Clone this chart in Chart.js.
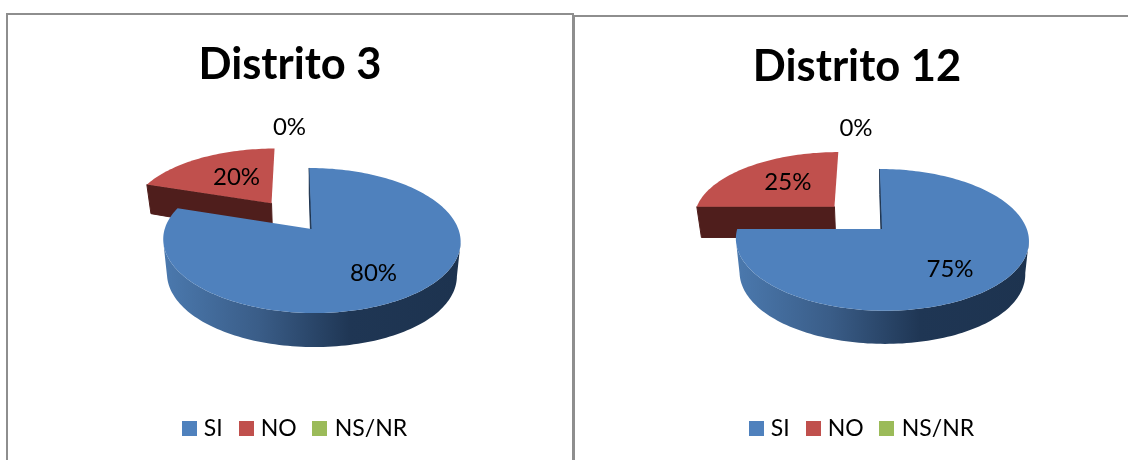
<!DOCTYPE html>
<html>
<head>
<meta charset="utf-8">
<script src="https://cdn.jsdelivr.net/npm/chart.js@4"></script>
<style>
html,body{margin:0;padding:0;background:#fff;width:1128px;height:460px;overflow:hidden}
.frame{position:absolute;box-sizing:content-box;width:564px;height:460px;border:2px solid #8e8e8e;border-bottom:none;background:#fff}
#f1{left:6px;top:13px}
#f2{left:573px;top:15px}
canvas{display:block}
</style>
</head>
<body>
<div class="frame" id="f1"><canvas id="c1" width="564" height="445"></canvas></div>
<div class="frame" id="f2"><canvas id="c2" width="564" height="443"></canvas></div>
<script>
const categories = ["SI", "NO", "NS/NR"];
const district3Values = [80, 20, 0];
const district12Values = [75, 25, 0];
const explodePercent = [0, 48, 0];

const sliceColors = ["#4F81BD", "#C0504D", "#9BBB59"];
const TEXT_FONT = "Lato, Carlito, sans-serif";

/* projection and label placement of the tilted pie, no data here */
const view3 = {
  pivotX: 303.5, pivotY: 214, rx: 146.8, ry: 70.7, persp: 0.1586, skew: 0.018,
  depth: 33.3, depthK: 3.9, depthQ: -3.2, shrink: 0.975,
  labels: [[62, 44], [-35, -26], [-22, -102]], legendShift: 6.5, legendY: -5
};
const view12 = {
  pivotX: 307, pivotY: 212, rx: 144.8, ry: 69.2, persp: 0.153, skew: 0.018,
  depth: 32.5, depthK: 3.9, depthQ: -3.2, shrink: 0.975,
  labels: [[68, 40], [-46.6, -24.7], [-26, -101]], legendShift: 6.5, legendY: -5
};

function project(view, u, v) {
  const w = 1 - view.persp * v;
  return { x: view.pivotX + view.rx * (u + view.skew * v) / w, y: view.pivotY + view.ry * v / w };
}
function lower(view, p, v) {
  return {
    x: view.pivotX + (p.x - view.pivotX) * view.shrink,
    y: p.y + view.depth + view.depthK * v + view.depthQ * v * v
  };
}
function rimPoints(view, u0, v0, a0, a1) {
  const steps = Math.max(2, Math.ceil((a1 - a0) / (Math.PI / 120)));
  const top = [], bot = [], wallTop = [], wallBot = [];
  for (let i = 0; i <= steps; i++) {
    const a = a0 + (a1 - a0) * i / steps;
    const u = u0 + Math.cos(a), v = v0 + Math.sin(a);
    const p = project(view, u, v);
    const q = lower(view, p, v);
    top.push(p);
    bot.push(q);
    if (Math.sin(a) >= view.persp) { wallTop.push(p); wallBot.push(q); }
  }
  return { top, bot, wallTop, wallBot };
}
function fillPath(ctx, pts) {
  ctx.beginPath();
  pts.forEach((p, i) => i ? ctx.lineTo(p.x, p.y) : ctx.moveTo(p.x, p.y));
  ctx.closePath();
  ctx.fill();
}

const tiltedPie = {
  id: "tiltedPie",
  beforeDatasetsDraw(chart, args, opts) {
    const view = opts.view;
    const ctx = chart.ctx;
    const arcs = chart.getDatasetMeta(0).data;
    const values = chart.data.datasets[0].data;
    const total = values.reduce((a, b) => a + b, 0);
    const wallDark = ["#1d334f", "#4f1e1c", "#4f5f2c"];
    ctx.save();
    for (let i = arcs.length - 1; i >= 0; i--) {
      const el = arcs[i];
      const a0 = el.startAngle, a1 = el.endAngle;
      if (a1 - a0 <= 0) continue;
      const mid = (a0 + a1) / 2;
      const d = (el.options.offset || 0) / 100;
      const u0 = d * Math.cos(mid), v0 = d * Math.sin(mid);
      const { top, bot, wallTop, wallBot } = rimPoints(view, u0, v0, a0, a1);
      const vtx = project(view, u0, v0);
      const vtxBot = lower(view, vtx, v0);

      // outer wall, only the part that faces the viewer
      if (wallTop.length > 1) {
        let wall = wallDark[i];
        if (i === 0) {
          const xs = top.map(p => p.x);
          const g = ctx.createLinearGradient(Math.min(...xs), 0, Math.max(...xs), 0);
          g.addColorStop(0, "#4b79ae");
          g.addColorStop(0.32, "#3a5d88");
          g.addColorStop(0.63, "#1f3654");
          g.addColorStop(1, "#1d334f");
          wall = g;
        }
        ctx.fillStyle = wall;
        fillPath(ctx, wallTop.concat(wallBot.slice().reverse()));
      }

      // radial wall on the leading edge
      ctx.fillStyle = wallDark[i];
      ctx.strokeStyle = wallDark[i];
      ctx.lineWidth = 1;
      fillPath(ctx, [top[0], vtx, vtxBot, bot[0]]);
      ctx.stroke();

      // upper face
      ctx.fillStyle = el.options.backgroundColor;
      fillPath(ctx, [vtx].concat(top));
    }
    // percentage labels
    ctx.fillStyle = "#000";
    ctx.font = "24px " + TEXT_FONT;
    ctx.textAlign = "center";
    ctx.textBaseline = "middle";
    arcs.forEach((el, i) => {
      const mid = (el.startAngle + el.endAngle) / 2;
      const d = (el.options.offset || 0) / 100;
      const base = project(view, d * Math.cos(mid), d * Math.sin(mid));
      const off = view.labels[i];
      ctx.fillText(Math.round(values[i] / total * 100) + "%", base.x + off[0], base.y + off[1]);
    });
    ctx.restore();
    return false;
  },
  afterLayout(chart, args, opts) {
    const l = chart.legend;
    l.left += opts.view.legendShift; l.right += opts.view.legendShift;
    l.top += opts.view.legendY; l.bottom += opts.view.legendY;
  }
};

function swatch(color) {
  const c = document.createElement("canvas");
  c.width = 15; c.height = 15;
  const x = c.getContext("2d");
  x.fillStyle = color;
  x.fillRect(0, 0, 15, 15);
  return c;
}

function makeChart(id, titleText, values, view) {
  return new Chart(document.getElementById(id), {
    type: "pie",
    data: {
      labels: categories,
      datasets: [{
        data: values,
        backgroundColor: sliceColors,
        offset: explodePercent,
        borderWidth: 0
      }]
    },
    options: {
      responsive: false,
      animation: false,
      layout: { padding: { bottom: 5 } },
      plugins: {
        tiltedPie: { view },
        tooltip: { enabled: false },
        title: {
          display: true,
          text: titleText,
          color: "#000",
          font: { family: TEXT_FONT, size: 43.5, weight: "bold" },
          padding: { top: 24, bottom: 10 }
        },
        legend: {
          position: "bottom",
          labels: {
            color: "#000",
            font: { family: TEXT_FONT, size: 23 },
            padding: 20,
            usePointStyle: true,
            pointStyleWidth: 6.5,
            generateLabels(chart) {
              return categories.map((t, i) => ({
                text: t,
                fillStyle: sliceColors[i],
                strokeStyle: sliceColors[i],
                fontColor: "#000",
                lineWidth: 0,
                pointStyle: swatch(sliceColors[i]),
                index: i
              }));
            }
          }
        }
      }
    },
    plugins: [tiltedPie]
  });
}

makeChart("c1", "Distrito 3", district3Values, view3);
makeChart("c2", "Distrito 12", district12Values, view12);
</script>
</body>
</html>
